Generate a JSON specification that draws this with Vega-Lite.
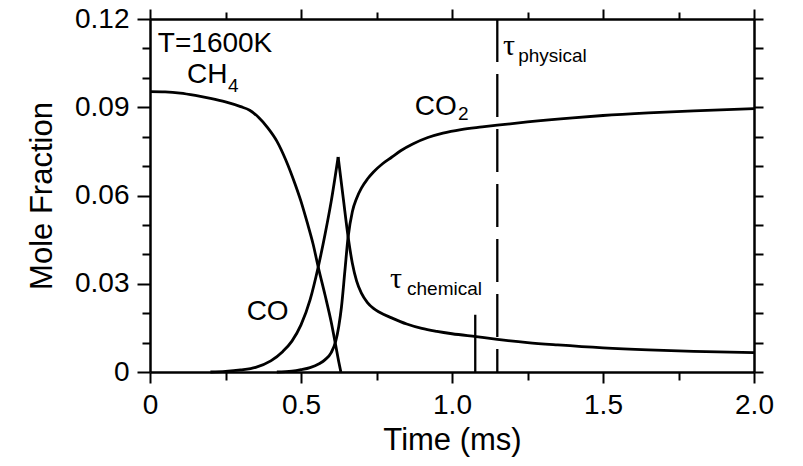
{
  "$schema": "https://vega.github.io/schema/vega-lite/v6.json",
  "width": 604,
  "height": 353,
  "autosize": {"type": "none"},
  "padding": {"left": 150, "top": 19, "right": 49, "bottom": 94},
  "background": "white",
  "config": {
    "view": {"stroke": null},
    "axis": {
      "grid": false,
      "domainColor": "black",
      "domainWidth": 2.5,
      "tickColor": "black",
      "tickWidth": 2,
      "labelFont": "Liberation Sans",
      "labelFontSize": 28,
      "labelColor": "black",
      "labelFlush": false,
      "labelOverlap": false,
      "labelBound": false,
      "titleFont": "Liberation Sans",
      "titleFontSize": 31,
      "titleFontWeight": "normal",
      "titleColor": "black"
    }
  },
  "datasets": {
    "curves": [
      {"s": "CH4", "t": 0, "v": 0.0953},
      {"s": "CH4", "t": 0.05, "v": 0.0952},
      {"s": "CH4", "t": 0.1, "v": 0.0948},
      {"s": "CH4", "t": 0.15, "v": 0.094},
      {"s": "CH4", "t": 0.2, "v": 0.093},
      {"s": "CH4", "t": 0.25, "v": 0.0918},
      {"s": "CH4", "t": 0.3, "v": 0.0902},
      {"s": "CH4", "t": 0.33, "v": 0.089},
      {"s": "CH4", "t": 0.36, "v": 0.0865},
      {"s": "CH4", "t": 0.39, "v": 0.083},
      {"s": "CH4", "t": 0.42, "v": 0.0785},
      {"s": "CH4", "t": 0.45, "v": 0.072},
      {"s": "CH4", "t": 0.48, "v": 0.064},
      {"s": "CH4", "t": 0.5, "v": 0.058},
      {"s": "CH4", "t": 0.52, "v": 0.051},
      {"s": "CH4", "t": 0.54, "v": 0.0435},
      {"s": "CH4", "t": 0.557, "v": 0.0357},
      {"s": "CH4", "t": 0.58, "v": 0.026},
      {"s": "CH4", "t": 0.6, "v": 0.017},
      {"s": "CH4", "t": 0.615, "v": 0.009},
      {"s": "CH4", "t": 0.625, "v": 0.0035},
      {"s": "CH4", "t": 0.632, "v": 0},
      {"s": "CO rise", "t": 0.2, "v": 0},
      {"s": "CO rise", "t": 0.25, "v": 0.0002},
      {"s": "CO rise", "t": 0.3, "v": 0.0007},
      {"s": "CO rise", "t": 0.35, "v": 0.0016},
      {"s": "CO rise", "t": 0.4, "v": 0.0038},
      {"s": "CO rise", "t": 0.44, "v": 0.007},
      {"s": "CO rise", "t": 0.47, "v": 0.0105},
      {"s": "CO rise", "t": 0.5, "v": 0.016},
      {"s": "CO rise", "t": 0.53, "v": 0.0245},
      {"s": "CO rise", "t": 0.557, "v": 0.0357},
      {"s": "CO rise", "t": 0.58, "v": 0.047},
      {"s": "CO rise", "t": 0.6, "v": 0.058},
      {"s": "CO rise", "t": 0.623, "v": 0.0731},
      {"s": "CO fall", "t": 0.623, "v": 0.0731},
      {"s": "CO fall", "t": 0.64, "v": 0.059},
      {"s": "CO fall", "t": 0.656, "v": 0.0459},
      {"s": "CO fall", "t": 0.67, "v": 0.037},
      {"s": "CO fall", "t": 0.684, "v": 0.031},
      {"s": "CO fall", "t": 0.7, "v": 0.0268},
      {"s": "CO fall", "t": 0.72, "v": 0.0236},
      {"s": "CO fall", "t": 0.74, "v": 0.0216},
      {"s": "CO fall", "t": 0.76, "v": 0.0203},
      {"s": "CO fall", "t": 0.8, "v": 0.0184},
      {"s": "CO fall", "t": 0.85, "v": 0.0163},
      {"s": "CO fall", "t": 0.9, "v": 0.0148},
      {"s": "CO fall", "t": 0.95, "v": 0.0138},
      {"s": "CO fall", "t": 1.0, "v": 0.013},
      {"s": "CO fall", "t": 1.08, "v": 0.012},
      {"s": "CO fall", "t": 1.15, "v": 0.0111},
      {"s": "CO fall", "t": 1.25, "v": 0.01},
      {"s": "CO fall", "t": 1.35, "v": 0.0092},
      {"s": "CO fall", "t": 1.5, "v": 0.0082},
      {"s": "CO fall", "t": 1.65, "v": 0.0075},
      {"s": "CO fall", "t": 1.8, "v": 0.007},
      {"s": "CO fall", "t": 2.0, "v": 0.0066},
      {"s": "CO2", "t": 0.42, "v": 0},
      {"s": "CO2", "t": 0.47, "v": 0.0003},
      {"s": "CO2", "t": 0.5, "v": 0.0008},
      {"s": "CO2", "t": 0.53, "v": 0.0015},
      {"s": "CO2", "t": 0.56, "v": 0.0028},
      {"s": "CO2", "t": 0.58, "v": 0.0042},
      {"s": "CO2", "t": 0.6, "v": 0.0066},
      {"s": "CO2", "t": 0.615, "v": 0.0105},
      {"s": "CO2", "t": 0.625, "v": 0.0155},
      {"s": "CO2", "t": 0.634, "v": 0.0221},
      {"s": "CO2", "t": 0.645, "v": 0.034},
      {"s": "CO2", "t": 0.656, "v": 0.0459},
      {"s": "CO2", "t": 0.67, "v": 0.0545},
      {"s": "CO2", "t": 0.684, "v": 0.059},
      {"s": "CO2", "t": 0.7, "v": 0.0625},
      {"s": "CO2", "t": 0.72, "v": 0.0656},
      {"s": "CO2", "t": 0.74, "v": 0.068},
      {"s": "CO2", "t": 0.77, "v": 0.0708},
      {"s": "CO2", "t": 0.8, "v": 0.073},
      {"s": "CO2", "t": 0.83, "v": 0.0752},
      {"s": "CO2", "t": 0.87, "v": 0.0775},
      {"s": "CO2", "t": 0.92, "v": 0.0797},
      {"s": "CO2", "t": 0.97, "v": 0.0812},
      {"s": "CO2", "t": 1.03, "v": 0.0824},
      {"s": "CO2", "t": 1.1, "v": 0.0833},
      {"s": "CO2", "t": 1.15, "v": 0.0839},
      {"s": "CO2", "t": 1.25, "v": 0.085},
      {"s": "CO2", "t": 1.4, "v": 0.0864},
      {"s": "CO2", "t": 1.5, "v": 0.0872},
      {"s": "CO2", "t": 1.65, "v": 0.0881},
      {"s": "CO2", "t": 1.8, "v": 0.0888},
      {"s": "CO2", "t": 2.0, "v": 0.0895}
    ],
    "rules": [
      {"kind": "physical", "t": 1.15, "v": 0.12, "v2": 0},
      {"kind": "chemical", "t": 1.077, "v": 0, "v2": 0.0195}
    ],
    "labels": [
      {"label": "T=1600K", "t": 0.026, "v": 0.1087},
      {"label": "CH", "t": 0.1225, "v": 0.0981},
      {"label": "CO", "t": 0.877, "v": 0.0873},
      {"label": "CO", "t": 0.32, "v": 0.0176}
    ],
    "subs": [
      {"label": "4", "t": 0.258, "v": 0.0952},
      {"label": "2", "t": 1.02, "v": 0.0856},
      {"label": "chemical", "t": 0.851, "v": 0.0261},
      {"label": "physical", "t": 1.219, "v": 0.1053}
    ],
    "taus": [
      {"label": "τ", "t": 0.795, "v": 0.0285},
      {"label": "τ", "t": 1.169, "v": 0.1077}
    ]
  },
  "layer": [
    {
      "data": {"name": "curves"},
      "mark": {"type": "line", "color": "black", "strokeWidth": 2.8, "interpolate": "monotone"},
      "encoding": {
        "x": {
          "field": "t", "type": "quantitative",
          "scale": {"domain": [0, 2], "nice": false},
          "axis": {
            "orient": "bottom",
            "title": "Time (ms)",
            "values": [0, 0.25, 0.5, 0.75, 1, 1.25, 1.5, 1.75, 2],
            "labelExpr": "datum.value == 0 ? '0' : ((datum.value * 2) % 1 == 0 ? format(datum.value, '.1f') : '')",
            "tickSize": {"condition": {"test": "(datum.value * 2) % 1 == 0", "value": 11}, "value": 8},
            "labelPadding": 8,
            "titlePadding": 6
          }
        },
        "y": {
          "field": "v", "type": "quantitative",
          "scale": {"domain": [0, 0.12], "nice": false},
          "axis": {
            "orient": "left",
            "title": "Mole Fraction",
            "values": [0, 0.01, 0.02, 0.03, 0.04, 0.05, 0.06, 0.07, 0.08, 0.09, 0.1, 0.11, 0.12],
            "labelExpr": "round(datum.value * 100) % 3 == 0 ? (datum.value == 0 ? '0' : format(datum.value, '.2f')) : ''",
            "tickSize": {"condition": {"test": "round(datum.value * 100) % 3 == 0", "value": 13}, "value": 8},
            "labelPadding": 8,
            "titlePadding": 16
          }
        },
        "detail": {"field": "s"}
      }
    },
    {
      "data": {"name": "rules"},
      "mark": {"type": "rule", "color": "black", "strokeWidth": 2.3},
      "encoding": {
        "x": {
          "field": "t", "type": "quantitative",
          "scale": {"domain": [0, 2], "nice": false},
          "axis": {
            "orient": "top",
            "title": null,
            "labels": false,
            "values": [0, 0.25, 0.5, 0.75, 1, 1.25, 1.5, 1.75, 2],
            "tickSize": {"condition": {"test": "(datum.value * 2) % 1 == 0", "value": 10}, "value": 7}
          }
        },
        "y": {
          "field": "v", "type": "quantitative",
          "scale": {"domain": [0, 0.12], "nice": false},
          "axis": {
            "orient": "right",
            "title": null,
            "labels": false,
            "values": [0, 0.01, 0.02, 0.03, 0.04, 0.05, 0.06, 0.07, 0.08, 0.09, 0.1, 0.11, 0.12],
            "tickSize": 9
          }
        },
        "y2": {"field": "v2"},
        "strokeDash": {
          "field": "kind", "type": "nominal",
          "scale": {"domain": ["chemical", "physical"], "range": [[1, 0], [43, 12]]},
          "legend": null
        }
      }
    },
    {
      "data": {"name": "labels"},
      "mark": {"type": "text", "font": "Liberation Sans", "fontSize": 28, "color": "black", "align": "left", "baseline": "alphabetic"},
      "encoding": {
        "x": {"field": "t", "type": "quantitative", "scale": {"domain": [0, 2], "nice": false}, "axis": null},
        "y": {"field": "v", "type": "quantitative", "scale": {"domain": [0, 0.12], "nice": false}, "axis": null},
        "text": {"field": "label"}
      }
    },
    {
      "data": {"name": "subs"},
      "mark": {"type": "text", "font": "Liberation Sans", "fontSize": 19, "color": "black", "align": "left", "baseline": "alphabetic"},
      "encoding": {
        "x": {"field": "t", "type": "quantitative", "scale": {"domain": [0, 2], "nice": false}, "axis": null},
        "y": {"field": "v", "type": "quantitative", "scale": {"domain": [0, 0.12], "nice": false}, "axis": null},
        "text": {"field": "label"}
      }
    },
    {
      "data": {"name": "taus"},
      "mark": {"type": "text", "font": "Liberation Serif", "fontSize": 30, "color": "black", "align": "left", "baseline": "alphabetic"},
      "encoding": {
        "x": {"field": "t", "type": "quantitative", "scale": {"domain": [0, 2], "nice": false}, "axis": null},
        "y": {"field": "v", "type": "quantitative", "scale": {"domain": [0, 0.12], "nice": false}, "axis": null},
        "text": {"field": "label"}
      }
    }
  ],
  "resolve": {"axis": {"x": "independent", "y": "independent"}}
}
